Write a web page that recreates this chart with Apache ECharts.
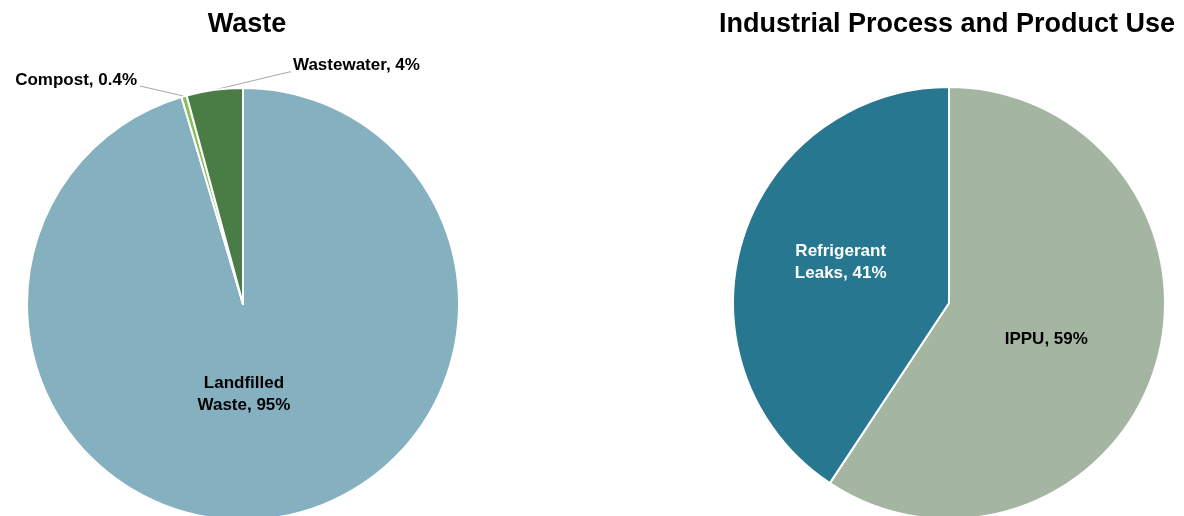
<!DOCTYPE html>
<html>
<head>
<meta charset="utf-8">
<script src="https://cdn.jsdelivr.net/npm/echarts@6/dist/echarts.min.js"></script>
<style>
  html, body { margin: 0; padding: 0; background: #fff; }
  #container { width: 1184px; height: 516px; }
</style>
</head>
<body>
<div id="container"></div>
<script>
// waste pie
var wasteNames = ['Landfilled Waste', 'Compost', 'Wastewater'];
var wasteValues = [95.4, 0.4, 4.2];
var wasteLabels = ['Landfilled\nWaste, 95%', 'Compost, 0.4%', 'Wastewater, 4%'];
var wasteColors = ['#84b0c0', '#8cbf5a', '#4a7d46'];

// industrial process pie
var ippuNames = ['IPPU', 'Refrigerant Leaks'];
var ippuValues = [59.3, 40.7];
var ippuLabels = ['IPPU, 59%', 'Refrigerant\nLeaks, 41%'];
var ippuColors = ['#a4b6a2', '#287791'];

var leftCenter = [243, 304];
var rightCenter = [949, 303];
var radius = 216;
var font = 'Liberation Sans, Arial, sans-serif';

// point on the pie edge at the middle of slice i
function edgePoint(values, i, c, r) {
    var total = 0, before = 0;
    for (var k = 0; k < values.length; k++) {
        total += values[k];
        if (k < i) before += values[k];
    }
    var a = (before + values[i] / 2) / total * Math.PI * 2;
    return [c[0] + r * Math.sin(a), c[1] - r * Math.cos(a)];
}

var dom = document.getElementById('container');
var myChart = echarts.init(dom);

var wasteData = wasteNames.map(function (n, i) {
    var item = {
        name: n,
        value: wasteValues[i],
        itemStyle: { color: wasteColors[i] },
        label: { formatter: wasteLabels[i] }
    };
    if (i === 0) {
        item.label.position = 'inside';
        item.labelLine = { show: false };
    }
    return item;
});

var ippuData = ippuNames.map(function (n, i) {
    return {
        name: n,
        value: ippuValues[i],
        itemStyle: { color: ippuColors[i] },
        label: {
            formatter: ippuLabels[i],
            color: i === 1 ? '#fff' : '#000',
            align: i === 1 ? 'left' : 'center'
        }
    };
});

var option = {
    animation: false,
    title: [{
        text: 'Waste',
        left: leftCenter[0] - 1,
        top: 6,
        textAlign: 'center',
        textStyle: { fontFamily: font, fontSize: 27, fontWeight: 'bold', color: '#000' }
    }, {
        text: 'Industrial Process and Product Use',
        left: rightCenter[0] - 7,
        top: 6,
        textAlign: 'center',
        textStyle: { fontFamily: font, fontSize: 27, fontWeight: 'bold', color: '#000' }
    }],
    series: [{
        name: 'Waste',
        type: 'pie',
        center: leftCenter,
        radius: radius,
        startAngle: 90,
        itemStyle: { borderColor: '#fff', borderWidth: 2 },
        label: {
            position: 'outside',
            fontFamily: font,
            fontSize: 17,
            fontWeight: 'bold',
            color: '#000',
            lineHeight: 22,
            overflow: 'none',
            width: 200
        },
        labelLine: { show: true, lineStyle: { color: '#a6a6a6', width: 1 } },
        labelLayout: function (p) {
            var c = leftCenter;
            if (p.dataIndex === 0) {
                return { dx: -15, dy: -20 };
            }
            var e = edgePoint(wasteValues, p.dataIndex, c, radius);
            if (p.dataIndex === 1) {
                return {
                    x: c[0] - 106, y: c[1] - 224,
                    align: 'right', verticalAlign: 'middle',
                    labelLinePoints: [e, [c[0] - 103, c[1] - 218], [c[0] - 103, c[1] - 218]]
                };
            }
            return {
                x: c[0] + 50, y: c[1] - 239,
                align: 'left', verticalAlign: 'middle',
                labelLinePoints: [e, [c[0] + 46, c[1] - 232], [c[0] + 48, c[1] - 232]]
            };
        },
        data: wasteData
    }, {
        name: 'Industrial Process and Product Use',
        type: 'pie',
        center: rightCenter,
        radius: radius,
        startAngle: 90,
        itemStyle: { borderColor: '#fff', borderWidth: 2 },
        label: {
            position: 'inside',
            fontFamily: font,
            fontSize: 17,
            fontWeight: 'bold',
            lineHeight: 22
        },
        labelLine: { show: false },
        labelLayout: function (p) {
            if (p.dataIndex === 1) return { dx: -2, dy: -9 };
            return { dx: -9, dy: 4 };
        },
        data: ippuData
    }]
};

myChart.setOption(option, true);
</script>
</body>
</html>
